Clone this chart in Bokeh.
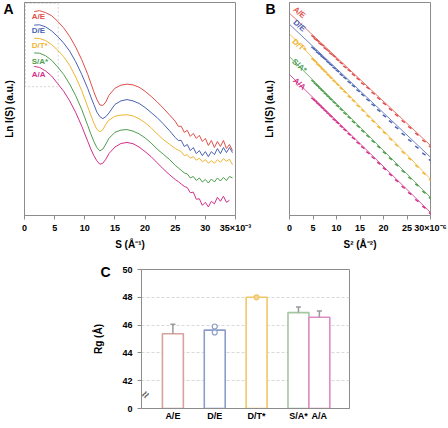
from bokeh.plotting import figure
from bokeh.layouts import column, row
from bokeh.models import FixedTicker, Label, BoxAnnotation, Spacer, LinearAxis
from bokeh.embed import file_html
from bokeh.resources import INLINE
from bokeh.core.properties import value

FONT = "Liberation Sans"
AX = "#8c8c8c"

# ---------------- data ----------------
series_names = ["A/E", "D/E", "D/T*", "S/A*", "A/A"]
series_colors = ["#e04f4a", "#4a63b3", "#f0b532", "#4e9e4e", "#d3308a"]

# Panel A: scattering curves  Ln I(S) vs S (x10^-3 1/A)
s_vals = [1.6, 2.5, 3.5, 4.5, 5.5, 6.5, 7.5, 8.5, 9.5, 10.5,
          11.0, 11.5, 12.0, 12.5, 13.0, 13.5, 14.0,
          15.0, 16.0, 17.0, 18.0, 19.0, 20.0, 21.0, 22.0, 23.0, 24.0,
          25.0, 25.5, 26.0, 26.5, 27.0, 27.5, 28.0, 28.5, 29.0, 29.5,
          30.0, 30.5, 31.0, 31.5, 32.0, 32.5, 33.0, 33.5, 34.0, 34.5]
lnI_AE = [201, 202, 200, 197, 191.5, 185, 176.5, 166, 153.5, 139,
          130.5, 122, 114.5, 109, 108.5, 112, 118.5,
          125.5, 128.5, 129.5, 128.8, 126.5, 122.5, 117.5, 112, 106, 99.5,
          93, 88, 88, 82, 84, 78, 81, 76, 79, 73,
          76, 69, 74, 67, 73, 68, 74, 66, 70, 64]
lnI_DE = [187.7, 188, 186, 182, 176.5, 170, 162, 151.5, 139, 125,
          117, 109.5, 102, 97.5, 95.5, 97.5, 101,
          109.5, 113, 114.3, 113, 110.5, 106.5, 101.5, 96.5, 90.5, 84,
          77, 74, 74, 68, 70, 64, 67, 61, 64, 59,
          63, 58, 63, 60, 66, 61, 67, 62, 67, 62]
lnI_DT = [174.7, 174.5, 172.5, 168.5, 163, 156.5, 148, 136.5, 123, 107,
          99, 91, 85, 82.5, 84.5, 90, 94,
          97.8, 99, 99.3, 98.2, 95.5, 91.5, 86.5, 80.5, 75, 70.5,
          66, 64.5, 63, 59, 60, 56.5, 58, 54.5, 56.5, 53,
          55, 51.5, 54, 51.5, 55, 52.5, 56, 53.5, 55.5, 50]
lnI_SA = [160.3, 160, 157.5, 153, 146.5, 139, 129.5, 118, 104.5, 88.5,
          80.5, 73, 67, 63.7, 65.5, 70.5, 76,
          82, 84.2, 84.7, 83.2, 80.5, 76.5, 71.5, 65.5, 60.5, 55.5,
          49.5, 47, 44.5, 42, 41, 37, 38.5, 34.5, 37, 33,
          35.5, 32, 36, 33, 37, 34, 37.5, 34.5, 38.5, 37]
lnI_AA = [147, 146, 142.5, 137.5, 130, 122.5, 113, 101.5, 88, 73,
          65.5, 59, 54, 50.5, 51.5, 55.5, 61,
          67.5, 71, 72, 70.8, 67.5, 63, 58, 52, 46, 40.5,
          35.5, 33.5, 31, 28.7, 27.5, 22.5, 23, 16, 16.5, 10,
          13, 8.5, 14, 11.5, 18, 14, 19, 13, 15, float("nan")]
a_ticks = [0, 5, 10, 15, 20, 25, 30, 35]
a_tick_last = "35×10⁻³"

# Panel B: Guinier plots  Ln I(S) vs S^2 (x10^-6)
s2_fit = [0, 30]
fit_AE = [201.3, 69.7]
fit_DE = [190.3, 58.0]
fit_DT = [180.7, 36.3]
fit_SA = [158.0, 18.0]
fit_AA = [140.3, 3.0]
s2_vals = [5.0, 5.5, 6.0, 6.5, 7.0, 7.6, 8.2, 8.8, 9.5, 10.2, 11.0, 11.8, 12.7, 13.6,
           14.6, 15.6, 16.7, 17.8, 19.0, 20.2, 21.5, 22.8, 24.2, 25.6, 27.1, 28.6, 30.0]
g_AE = [178.2, 175.4, 173.9, 171.0, 169.6, 166.3, 164.1, 161.0, 158.4, 154.9, 151.8, 147.9, 144.2, 140.1,
        135.9, 131.2, 126.8, 121.6, 116.5, 111.3, 105.6, 99.8, 93.6, 87.6, 80.9, 74.2, 68.3]
g_DE = [166.6, 164.6, 162.1, 160.3, 157.8, 155.4, 152.5, 150.1, 146.9, 143.8, 140.2, 136.9, 132.6, 128.9,
        124.2, 119.9, 115.0, 110.0, 104.6, 99.1, 93.2, 87.3, 80.9, 74.6, 67.9, 61.1, 54.8]
g_DT = [155.3, 153.2, 150.4, 148.3, 145.6, 143.0, 139.8, 137.2, 133.6, 130.5, 126.4, 122.8, 118.2, 114.1,
        109.0, 104.4, 98.9, 93.8, 87.8, 82.3, 75.8, 69.8, 62.8, 56.3, 48.9, 41.8, 35.0]
g_SA = [133.5, 131.0, 128.8, 126.3, 124.2, 121.1, 118.5, 115.6, 112.5, 109.0, 105.5, 101.6, 97.5, 93.1,
        88.7, 83.9, 78.9, 73.6, 68.1, 62.4, 56.5, 50.3, 43.9, 37.2, 30.3, 23.2, 16.8]
g_AA = [116.0, 113.9, 111.4, 109.4, 106.9, 104.3, 101.4, 98.8, 95.4, 92.4, 88.6, 85.1, 80.8, 76.9,
        72.1, 67.7, 62.5, 57.6, 51.9, 46.6, 40.5, 34.7, 28.1, 21.9, 14.9, 8.2, 1.7]
b_ticks = [0, 5, 10, 15, 20, 25, 30]
b_tick_last = "30×10⁻⁶"

# Panel C: radius of gyration
rg_cats = ["A/E", "D/E", "D/T*", "S/A*", "A/A"]
rg_vals = [45.38, 45.64, 48.0, 46.9, 46.57]
rg_err = [0.69, 0.0, 0.0, 0.41, 0.45]
rg_pt_cat = ["D/E", "D/E", "D/T*"]
rg_pts = [45.9, 45.47, 48.0]
c_ticks = [40, 42, 44, 46, 48, 50]
c_tick_labels = ["0", "42", "44", "46", "48", "50"]

# ---------------- layout / style ----------------
bar_pos = [1, 2, 3, 4, 4.5]
bar_colors = ["#d6a29c", "#8d9dca", "#efc766", "#a3c7a0", "#e08cc4"]
pt_colors = ["#8d9dca", "#8d9dca", "#f2c56a"]
pt_fill = ["white", "white", "#f6d68f"]
a_label_pos = [(1.2, 196), (1.2, 182), (1.2, 167.5), (1.2, 152), (1.2, 139.3)]
b_label_pos = [(2.1, 202), (2.1, 189), (2.1, 169), (2.1, 149), (2.1, 131)]
b_label_angle = [-40, -40, -42, -42, -42]
letter_y = {"A": 205, "B": 207, "C": 49.8}


def style(p):
    p.outline_line_color = AX
    p.outline_line_width = 1
    for ax in p.axis:
        ax.axis_line_color = AX
        ax.major_tick_line_color = AX
        ax.minor_tick_line_color = None
        ax.major_tick_in = 0
        ax.major_tick_out = 4
        ax.major_label_standoff = 3
        ax.major_label_text_font = FONT
        ax.major_label_text_font_style = "bold"
        ax.major_label_text_font_size = "9px"
        ax.major_label_text_color = "black"
        ax.axis_label_text_font = FONT
        ax.axis_label_text_font_style = "bold"
        ax.axis_label_text_font_size = "10px"
        ax.axis_label_text_color = "black"
        ax.axis_label_standoff = 3
    p.xgrid.visible = False
    p.ygrid.visible = False


def letter_axis(ax, letter, standoff, label_standoff):
    # panel letter drawn as the single tick label of a left axis
    ax.ticker = FixedTicker(ticks=[letter_y[letter]])
    ax.major_label_overrides = {letter_y[letter]: letter}
    ax.major_tick_out = 0
    ax.major_tick_line_color = None
    ax.major_label_standoff = standoff
    ax.major_label_text_font_size = "14px"
    ax.axis_label_standoff = label_standoff


# ---- Panel A
pA = figure(width=252, height=253, x_range=(0, 35), y_range=(0, 210), title=None,
            output_backend="svg", toolbar_location=None,
            min_border_left=24, min_border_right=17, min_border_top=2, min_border_bottom=38)
style(pA)
letter_axis(pA.yaxis[0], "A", 11, -15)
pA.xaxis.ticker = FixedTicker(ticks=a_ticks)
pA.xaxis.major_label_overrides = {a_ticks[-1]: a_tick_last}
pA.xaxis.axis_label = "S (Å⁻¹)"
pA.yaxis.axis_label = "Ln I(S) (a.u.)"
for vals, col in zip([lnI_AE, lnI_DE, lnI_DT, lnI_SA, lnI_AA], series_colors):
    pA.line(s_vals, vals, line_color=col, line_width=1.0)
pA.add_layout(BoxAnnotation(left=0.17, right=5.6, bottom=127, top=209, fill_alpha=0,
                            line_color="#777777", line_width=1, line_dash="2 2"))
pA.text(x=[p[0] for p in a_label_pos], y=[p[1] for p in a_label_pos], text=series_names,
        text_color=series_colors, text_font=value(FONT), text_font_style="bold",
        text_font_size="8px", text_align="left", text_baseline="middle")

# ---- Panel B
pB = figure(width=196, height=253, x_range=(0, 30), y_range=(0, 212), title=None,
            output_backend="svg", toolbar_location=None,
            min_border_left=37, min_border_right=18, min_border_top=2, min_border_bottom=38)
style(pB)
letter_axis(pB.yaxis[0], "B", 14, -13)
pB.xaxis.ticker = FixedTicker(ticks=b_ticks)
pB.xaxis.major_label_overrides = {b_ticks[-1]: b_tick_last}
pB.xaxis.axis_label = "S² (Å⁻²)"
pB.yaxis.axis_label = "Ln I(S) (a.u.)"
for fit, pts, col in zip([fit_AE, fit_DE, fit_DT, fit_SA, fit_AA],
                         [g_AE, g_DE, g_DT, g_SA, g_AA], series_colors):
    pB.line(s2_fit, fit, line_color=col, line_width=0.8)
    pB.scatter(s2_vals, pts, marker="dash", size=4, angle=-0.6, line_color=col, line_width=1.5)
pB.text(x=[p[0] for p in b_label_pos], y=[p[1] for p in b_label_pos], text=series_names,
        angle=b_label_angle, angle_units="deg",
        text_color=series_colors, text_font=value(FONT), text_font_style="bold",
        text_font_size="8px", text_align="center", text_baseline="middle")

# ---- Panel C
pC = figure(width=270, height=170, x_range=(0.25, 5.22), y_range=(40, 50), title=None,
            output_backend="svg", toolbar_location=None,
            min_border_left=48, min_border_right=11, min_border_top=16, min_border_bottom=14)
cax = LinearAxis()
pC.add_layout(cax, "left")
style(pC)
pC.xaxis.ticker = FixedTicker(ticks=bar_pos)
pC.xaxis.major_label_overrides = {k: v for k, v in zip(bar_pos, rg_cats)}
pC.xaxis.major_tick_out = 0
pC.xaxis.major_label_standoff = 2
main_y = pC.yaxis[0]
main_y.ticker = FixedTicker(ticks=c_ticks)
main_y.major_label_overrides = {k: v for k, v in zip(c_ticks, c_tick_labels)}
main_y.major_label_standoff = 5
letter_axis(cax, "C", 9, -7)
cax.axis_line_color = None
cax.axis_label = "Rg (Å)"
pC.ygrid.visible = True
pC.ygrid.ticker = FixedTicker(ticks=c_ticks[1:-1])
pC.ygrid.grid_line_color = "#d9d9d9"
pC.ygrid.grid_line_dash = "3 2"
pC.vbar(x=bar_pos, width=0.5, bottom=c_ticks[0], top=rg_vals, fill_color="white",
        line_color=bar_colors, line_width=1.6)
ex = [x for x, e in zip(bar_pos, rg_err) if e > 0]
ey0 = [v for v, e in zip(rg_vals, rg_err) if e > 0]
ey1 = [v + e for v, e in zip(rg_vals, rg_err) if e > 0]
pC.segment(x0=ex, y0=ey0, x1=ex, y1=ey1, line_color="#9a9a9a", line_width=1.5)
pC.scatter(ex, ey1, marker="dash", size=5, line_color="#9a9a9a", line_width=1.5)
pt_x = [bar_pos[rg_cats.index(c)] for c in rg_pt_cat]
pC.scatter(pt_x, rg_pts, marker="circle", size=5, line_color=pt_colors, fill_color=pt_fill,
           line_width=1.2)
pC.add_layout(Label(x=0.25, y=41.0, x_offset=4, text="≈", text_font=FONT, text_font_size="12px",
                    text_font_style="bold", text_color="#555555", angle=0.9,
                    text_align="center", text_baseline="middle"))

layout = column(row(pA, pB), row(Spacer(width=90, height=170), pC))
open("out.html", "w").write(file_html(layout, INLINE))
